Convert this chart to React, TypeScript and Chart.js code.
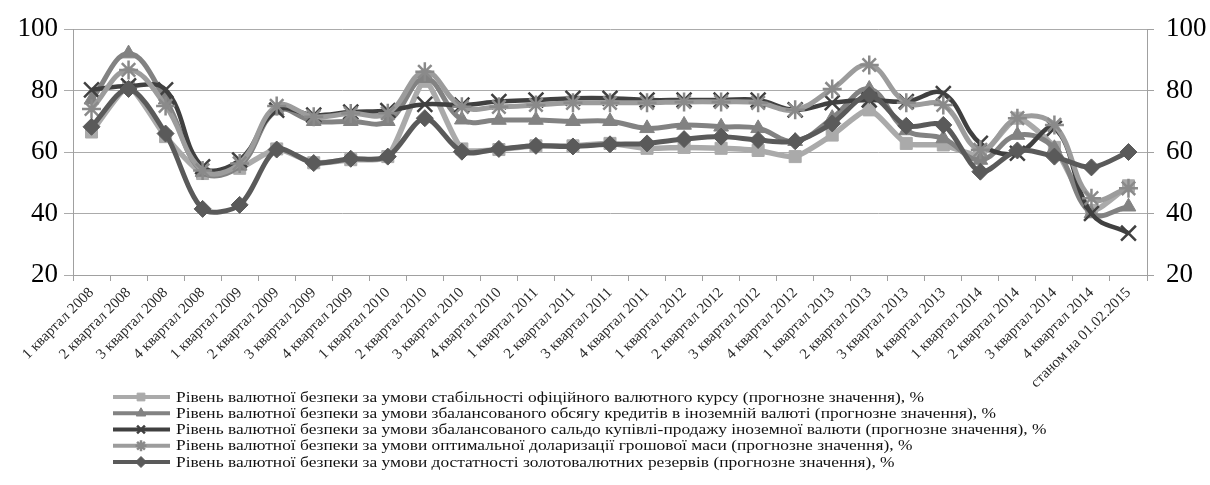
import React, { useEffect, useRef } from 'react';
import { Chart, registerables } from 'chart.js';
import { drawPoint } from 'chart.js/helpers';

Chart.register(...registerables);

const categories = [
  '1 квартал 2008', '2 квартал 2008', '3 квартал 2008', '4 квартал 2008',
  '1 квартал 2009', '2 квартал 2009', '3 квартал 2009', '4 квартал 2009',
  '1 квартал 2010', '2 квартал 2010', '3 квартал 2010', '4 квартал 2010',
  '1 квартал 2011', '2 квартал 2011', '3 квартал 2011', '4 квартал 2011',
  '1 квартал 2012', '2 квартал 2012', '3 квартал 2012', '4 квартал 2012',
  '1 квартал 2013', '2 квартал 2013', '3 квартал 2013', '4 квартал 2013',
  '1 квартал 2014', '2 квартал 2014', '3 квартал 2014', '4 квартал 2014',
  'станом на 01.02.2015',
];

const exchangeRateStability = [66.5, 81, 65, 53, 54.7, 61, 56.5, 57.5, 58.5, 83, 61, 60.8, 62, 62, 62.8, 61.2, 61.5, 61.2, 60.5, 58.5, 65.5, 73.7, 62.8, 62.3, 59, 71, 61.5, 41, 49];
const foreignCurrencyLoans = [77, 92, 77, 53.5, 55.5, 73.5, 70, 70, 70, 84, 70.5, 70.4, 70.4, 70, 70, 67.7, 68.8, 68.2, 67.7, 63.5, 71, 80.5, 67, 64.4, 57.4, 65.5, 61.2, 40, 42.2];
const currencyTradeBalance = [80.2, 81.5, 80.2, 55.2, 57.4, 73.6, 72, 73, 73.5, 75.5, 75.3, 76.4, 76.9, 77.5, 77.5, 76.9, 76.9, 76.9, 76.9, 73.7, 76, 76.9, 76.4, 79, 62.8, 59.6, 67.7, 40, 33.6];
const optimalDollarization = [74, 86.7, 75, 54, 56.3, 75, 71.5, 72.5, 72.6, 86.1, 74.7, 74.7, 75.3, 76, 76, 76, 76.3, 76.3, 76, 73.7, 80.5, 88.3, 76, 75.3, 60.7, 71, 68.8, 45, 48.2];
const reservesAdequacy = [68.2, 80.5, 66, 41.5, 42.8, 60.8, 56.4, 57.8, 58.5, 71, 60.1, 61, 62, 61.8, 62.5, 62.8, 64.2, 65, 63.9, 63.5, 69.3, 78.5, 68.5, 68.8, 53.6, 60.5, 58.5, 55, 60];

const seriesLabels = [
  'Рівень валютної безпеки за умови стабільності офіційного валютного курсу (прогнозне значення), %',
  'Рівень валютної безпеки за умови збалансованого обсягу кредитів в іноземній валюті (прогнозне значення), %',
  'Рівень валютної безпеки за умови збалансованого сальдо купівлі-продажу іноземної валюти (прогнозне значення), %',
  'Рівень валютної безпеки за умови оптимальної доларизації грошової маси (прогнозне значення), %',
  'Рівень валютної безпеки за умови достатності золотовалютних резервів (прогнозне значення), %',
];

const yMin = 20;
const yMax = 100;
const yStep = 20;

const FONT = '"Liberation Serif", "Times New Roman", serif';

export default function App() {
  const ref = useRef<HTMLCanvasElement>(null);

  useEffect(() => {
    document.body.style.margin = '0';
    const canvas = ref.current;
    if (!canvas) return;

    const legendPlugin = {
      id: 'customLegend',
      afterDraw(chart: any) {
        const ctx = chart.ctx as CanvasRenderingContext2D;
        ctx.save();
        ctx.font = `14px ${FONT}`;
        const base = ctx.measureText(seriesLabels[0]).width;
        const sx = 748 / base;
        chart.data.datasets.forEach((ds: any, i: number) => {
          const y = 397 + i * 16.25;
          ctx.strokeStyle = ds.borderColor;
          ctx.lineWidth = 4;
          ctx.beginPath();
          ctx.moveTo(113, y);
          ctx.lineTo(170, y);
          ctx.stroke();
          ctx.fillStyle = ds.pointBackgroundColor;
          ctx.strokeStyle = ds.pointBorderColor;
          ctx.lineWidth = ds.pointBorderWidth;
          drawPoint(ctx, { pointStyle: ds.pointStyle, radius: 5.5, borderWidth: ds.pointBorderWidth, rotation: 0 } as any, 141, y);
          ctx.save();
          ctx.translate(176, y);
          ctx.scale(sx, 1);
          ctx.fillStyle = '#111';
          ctx.textBaseline = 'middle';
          ctx.textAlign = 'left';
          ctx.fillText(ds.label, 0, 1);
          ctx.restore();
        });
        ctx.restore();
      },
    };

    const mk = (label: string, data: number[], color: string, markerColor: string, style: string, radius: number, width: number, order: number, tension: number, pbw: number) => ({
      label,
      data,
      borderColor: color,
      backgroundColor: markerColor,
      pointBackgroundColor: markerColor,
      pointBorderColor: markerColor,
      pointBorderWidth: pbw,
      pointStyle: style,
      pointRadius: radius,
      borderWidth: width,
      tension,
      order,
      yAxisID: 'y',
      fill: false,
    });

    const chart = new Chart(canvas, {
      type: 'line',
      data: {
        labels: categories,
        datasets: [
          mk(seriesLabels[0], exchangeRateStability, '#aaaaaa', '#aaaaaa', 'rect', 8.5, 5.5, 5, 0.2, 1),
          mk(seriesLabels[1], foreignCurrencyLoans, '#828282', '#828282', 'triangle', 8.5, 5, 4, 0.4, 1),
          mk(seriesLabels[2], currencyTradeBalance, '#404040', '#404040', 'crossRot', 10.5, 4.5, 3, 0.4, 2.5),
          mk(seriesLabels[3], optimalDollarization, '#9c9c9c', '#8a8a8a', 'star', 9.5, 5, 2, 0.4, 2.5),
          mk(seriesLabels[4], reservesAdequacy, '#5a5a5a', '#5a5a5a', 'rectRot', 8.5, 5, 1, 0.3, 1),
        ] as any,
      },
      options: {
        responsive: false,
        animation: false,
        devicePixelRatio: 1,
        layout: { padding: { top: 29, left: 0, right: 0, bottom: 0 } },
        plugins: {
          legend: { display: false },
          tooltip: { enabled: false },
        },
        scales: {
          x: {
            offset: true,
            grid: { offset: true, drawOnChartArea: false, color: '#a0a0a0', tickLength: 6 },
            border: { color: '#a0a0a0' },
            ticks: {
              autoSkip: false,
              maxRotation: 45,
              minRotation: 45,
              padding: 3,
              color: '#2a2a2a',
              font: { family: FONT, size: 15 },
            },
            afterFit(s: any) { s.height = 210; },
          },
          y: {
            position: 'left',
            min: yMin,
            max: yMax,
            ticks: { stepSize: yStep, color: '#000', padding: 6, font: { family: FONT, size: 27 } },
            grid: { color: '#ababab', tickLength: 9 },
            border: { color: '#a0a0a0' },
            afterFit(s: any) { s.width = 73; },
          },
          y2: {
            position: 'right',
            min: yMin,
            max: yMax,
            ticks: { stepSize: yStep, color: '#000', padding: 12, font: { family: FONT, size: 27 } },
            grid: { drawOnChartArea: false, color: '#a0a0a0', tickLength: 7 },
            border: { color: '#a0a0a0' },
            afterFit(s: any) { s.width = 63; },
          },
        },
      } as any,
      plugins: [legendPlugin],
    });

    return () => chart.destroy();
  }, []);

  return (
    <div style={{ width: 1210, height: 485, background: '#fff' }}>
      <canvas ref={ref} width={1210} height={485} style={{ display: 'block' }} />
    </div>
  );
}
